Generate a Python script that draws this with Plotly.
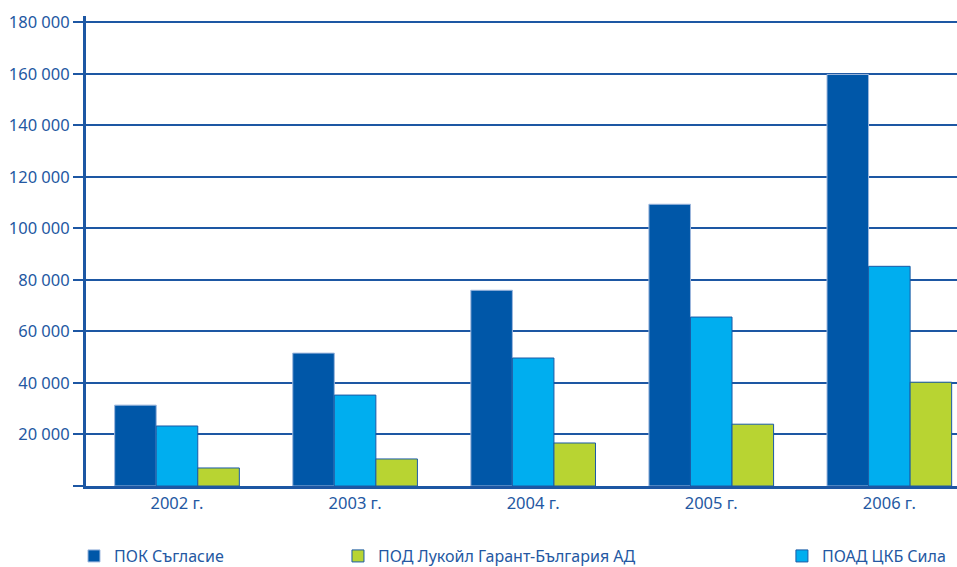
import plotly.graph_objects as go

years = ["2002 г.", "2003 г.", "2004 г.", "2005 г.", "2006 г."]
s_dark = [31400, 51600, 76000, 109400, 159800]
s_light = [23300, 35300, 49700, 65600, 85300]
s_green = [7000, 10500, 16700, 24000, 40300]
names = ["ПОК Съгласие", "ПОАД ЦКБ Сила", "ПОД Лукойл Гарант-България АД"]
ytick_vals = [0, 20000, 40000, 60000, 80000, 100000, 120000, 140000, 160000, 180000]
ytick_text = ["", "20 000", "40 000", "60 000", "80 000", "100 000", "120 000", "140 000", "160 000", "180 000"]

AX = "#1d57a3"
TXT = "#2458a2"
FONT = "Noto Sans"

fig = go.Figure()
fig.add_trace(go.Bar(x=years, y=s_dark, name=names[0], legend="legend", showlegend=True,
                     marker=dict(color="#0057a8", line=dict(color="#9db7dd", width=1))))
fig.add_trace(go.Bar(x=years, y=s_light, name=names[1], legend="legend3", showlegend=True,
                     marker=dict(color="#00aeef", line=dict(color="#1a5aa6", width=1))))
fig.add_trace(go.Bar(x=years, y=s_green, name=names[2], legend="legend2", showlegend=True,
                     marker=dict(color="#b8d432", line=dict(color="#1a5aa6", width=1))))

leg_common = dict(orientation="h", yanchor="middle", y=-0.149, xanchor="left",
                  font=dict(family=FONT, size=16, color=TXT), bgcolor="rgba(0,0,0,0)")
fig.update_layout(
    width=957, height=567,
    showlegend=True,
    margin=dict(l=86, r=0, t=16, b=81, autoexpand=False),
    plot_bgcolor="white", paper_bgcolor="white",
    barmode="group", bargap=0.3, bargroupgap=0,
    font=dict(family=FONT, color=TXT),
    legend=dict(x=-0.0138, **leg_common),
    legend2=dict(x=0.2893, **leg_common),
    legend3=dict(x=0.799, **leg_common),
    xaxis=dict(range=[-0.511, 4.38], showgrid=False, showline=True, linewidth=3, linecolor=AX,
               ticks="", tickfont=dict(family=FONT, size=16.5, color=TXT), zeroline=False),
    yaxis=dict(range=[0, 182500], tickvals=ytick_vals, ticktext=ytick_text,
               showgrid=True, gridcolor=AX, gridwidth=2, zeroline=False,
               showline=True, linewidth=3, linecolor=AX,
               ticks="outside", ticklen=10, tickwidth=2, tickcolor=AX,
               tickfont=dict(family=FONT, size=16.5, color=TXT)),
)

fig.write_html("out.html", config={"displayModeBar": False},
               post_script="document.body.style.margin='0';document.body.style.overflow='hidden';")
